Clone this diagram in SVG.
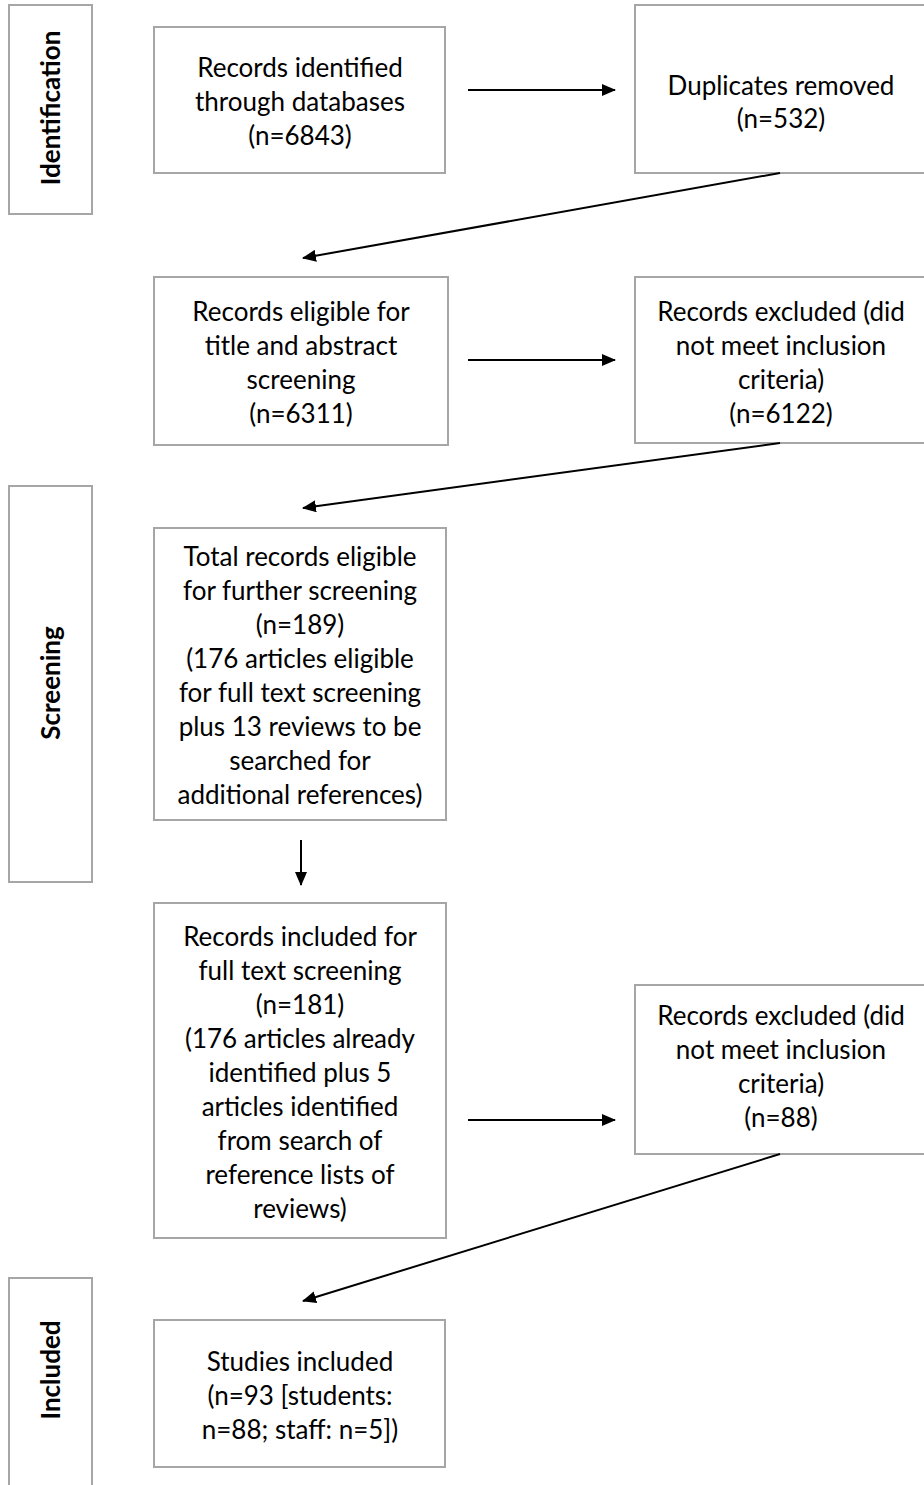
<svg xmlns="http://www.w3.org/2000/svg" width="924" height="1485" viewBox="0 0 924 1485">
<style>
.box{fill:#fff;stroke:#a6a6a6;stroke-width:2}
.t{font-family:Lato,"Liberation Sans",sans-serif;font-size:26px;fill:#000;text-anchor:middle;dominant-baseline:central}
.s{font-family:Lato,"Liberation Sans",sans-serif;font-size:26px;font-weight:bold;fill:#000;text-anchor:middle;dominant-baseline:central}
.c{stroke:#000;stroke-width:2;fill:none;marker-end:url(#ah)}
</style>
<defs>
<marker id="ah" viewBox="0 0 14 12" refX="13" refY="6" markerWidth="14" markerHeight="12" markerUnits="userSpaceOnUse" orient="auto"><path d="M0,0 L14,6 L0,12 z" fill="#000"/></marker>
</defs>
<rect width="924" height="1485" fill="#fff"/>
<g id="stage-identification"><rect class="box" x="9" y="5" width="83" height="209"/><text class="s" transform="translate(50,108) rotate(-90)">Identification</text></g>
<g id="stage-screening"><rect class="box" x="9" y="486" width="83" height="396"/><text class="s" transform="translate(50,683) rotate(-90)">Screening</text></g>
<g id="stage-included"><rect class="box" x="9" y="1278" width="83" height="220"/><text class="s" transform="translate(50,1370) rotate(-90)">Included</text></g>
<g id="n1"><rect class="box" x="154" y="27" width="291" height="146"/><text class="t" x="300" y="67">Records identified</text><text class="t" x="300" y="101">through databases</text><text class="t" x="300" y="135">(n=6843)</text></g>
<g id="n2"><rect class="box" x="635" y="5" width="300" height="168"/><text class="t" x="781" y="85">Duplicates removed</text><text class="t" x="781" y="118">(n=532)</text></g>
<g id="n3"><rect class="box" x="154" y="277" width="294" height="168"/><text class="t" x="301" y="311">Records eligible for</text><text class="t" x="301" y="345">title and abstract</text><text class="t" x="301" y="379">screening</text><text class="t" x="301" y="413">(n=6311)</text></g>
<g id="n4"><rect class="box" x="635" y="277" width="300" height="166"/><text class="t" x="781" y="311">Records excluded (did</text><text class="t" x="781" y="345">not meet inclusion</text><text class="t" x="781" y="379">criteria)</text><text class="t" x="781" y="413">(n=6122)</text></g>
<g id="n5"><rect class="box" x="154" y="528" width="292" height="292"/><text class="t" x="300" y="556">Total records eligible</text><text class="t" x="300" y="590">for further screening</text><text class="t" x="300" y="624">(n=189)</text><text class="t" x="300" y="658">(176 articles eligible</text><text class="t" x="300" y="692">for full text screening</text><text class="t" x="300" y="726">plus 13 reviews to be</text><text class="t" x="300" y="760">searched for</text><text class="t" x="300" y="794">additional references)</text></g>
<g id="n6"><rect class="box" x="154" y="903" width="292" height="335"/><text class="t" x="300" y="936">Records included for</text><text class="t" x="300" y="970">full text screening</text><text class="t" x="300" y="1004">(n=181)</text><text class="t" x="300" y="1038">(176 articles already</text><text class="t" x="300" y="1072">identified plus 5</text><text class="t" x="300" y="1106">articles identified</text><text class="t" x="300" y="1140">from search of</text><text class="t" x="300" y="1174">reference lists of</text><text class="t" x="300" y="1208">reviews)</text></g>
<g id="n7"><rect class="box" x="635" y="985" width="300" height="169"/><text class="t" x="781" y="1015">Records excluded (did</text><text class="t" x="781" y="1049">not meet inclusion</text><text class="t" x="781" y="1083">criteria)</text><text class="t" x="781" y="1117">(n=88)</text></g>
<g id="n8"><rect class="box" x="154" y="1320" width="291" height="147"/><text class="t" x="300" y="1361">Studies included</text><text class="t" x="300" y="1395">(n=93 [students:</text><text class="t" x="300" y="1429">n=88; staff: n=5])</text></g>
<g id="connectors">
<line class="c" x1="468" y1="90" x2="615" y2="90"/>
<line class="c" x1="780" y1="173" x2="303" y2="258"/>
<line class="c" x1="468" y1="360" x2="615" y2="360"/>
<line class="c" x1="780" y1="443" x2="303" y2="508"/>
<line class="c" x1="301" y1="840" x2="301" y2="885"/>
<line class="c" x1="468" y1="1120" x2="615" y2="1120"/>
<line class="c" x1="780" y1="1154" x2="303" y2="1301"/>
</g>
</svg>
